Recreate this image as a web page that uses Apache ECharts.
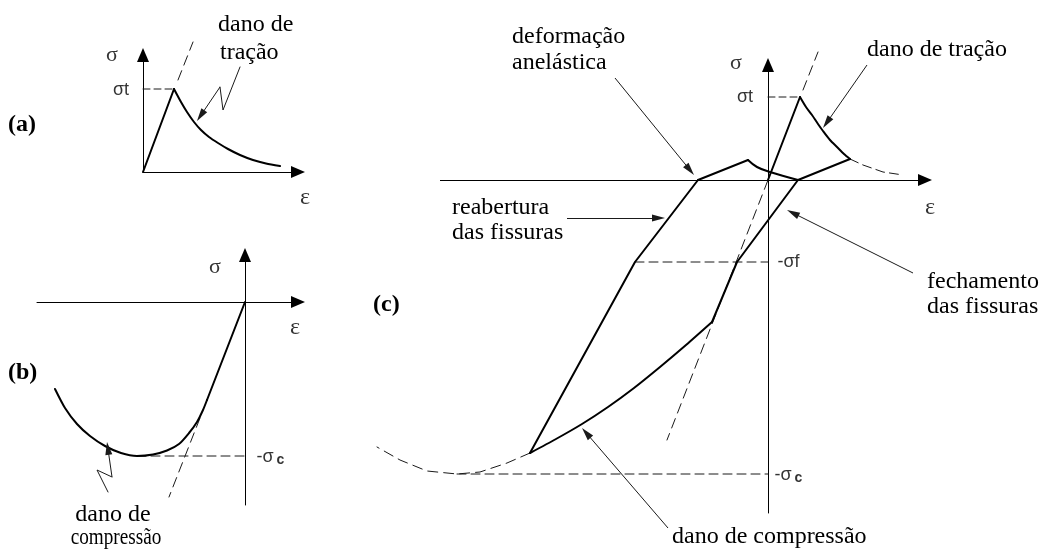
<!DOCTYPE html>
<html>
<head>
<meta charset="utf-8">
<script src="https://cdn.jsdelivr.net/npm/echarts@6/dist/echarts.min.js"></script>
<style>
  html, body { margin: 0; padding: 0; background: #ffffff; }
  #chart { width: 1042px; height: 550px; }
</style>
</head>
<body>
<div id="chart"></div>
<script>
// ---------------------------------------------------------------
// Stress–strain diagrams of the damage model (strain ε, stress σ)
// Each panel has its own axes, origin at (0, 0).
// ---------------------------------------------------------------

// (a) uniaxial tension
const tensaoA_elastico = [[0, 0], [31, 83]];
const tensaoA_amolecimento = [[31, 83], [38, 70], [44, 60], [51, 50], [58, 42], [66, 35], [75, 29],
                              [85, 23], [97, 17], [110, 12], [123, 8.5], [137, 6]];
const tensaoA_prolongamento = [[35, 92], [50, 130]];
const sigmaT_A = 83;
const setaA_zigue = [[97, 105], [80, 62], [77, 85]];
const setaA_ponta = [77, 85];
const setaA_alvo = [54, 51];

// (b) uniaxial compression
const compressaoB_elastico = [[0, 0], [-38, -98]];
const compressaoB_curva = [[-38, -98], [-42, -108], [-48, -120], [-56, -131], [-66, -142], [-78, -148.5],
                           [-92, -152.5], [-108, -154], [-124, -151], [-140, -144], [-155, -134],
                           [-168, -122], [-180, -106], [-190, -87]];
const compressaoB_prolongamento = [[-45, -116], [-76, -195]];
const sigmaC_B = -154;
const picoB_x = -108;
const setaB_zigue = [[-137, -190], [-148, -168], [-133, -175]];
const setaB_ponta = [-133, -175];
const setaB_alvo = [-138, -140];

// (c) cyclic loading
const cicloC_subida = [[-70, 0], [-20, 20]];
const cicloC_descida = [[-20, 20], [-11, 13], [2, 8], [30, 0]];
const tracaoC_elastico = [[0, 0], [32, 83]];
const tracaoC_amolecimento = [[32, 83], [38, 73], [44, 65], [50, 56], [55, 49], [62, 40], [69, 33], [76, 26], [82, 21]];
const tracaoC_continuacao = [[82, 21], [95, 15], [115, 8], [135, 5]];
const fechamentoC = [[82, 21], [30, 0], [-31, -82], [-56, -142]];
const reaberturaC = [[-70, 0], [-133, -82], [-238, -273]];
const compressaoC = [[-56, -142], [-82, -165], [-108, -187], [-134, -208], [-160, -227], [-186, -244], [-212, -259], [-238, -273]];
const compressaoC_continuacao = [[-238, -273], [-261, -283], [-288, -292], [-311, -294], [-341, -291], [-368, -280], [-391, -267]];
const elasticoC_inferior = [[0, 0], [-101, -260]];
const elasticoC_superior = [[35, 90], [50, 128]];
const sigmaT_C = 83;
const sigmaF_C = -82;
const sigmaC_C = -294;
const picoT_C = 32;
const fechaF_x = -133;
const picoC_x = -311;
const eixoEpsC = [[-328, 0], [164, 0]];

// (c) annotation arrows: [start, tip]
const setasC = {
  anelastica: [[-153, 102], [-74, 5]],
  reabertura: [[-201, -38], [-103, -38]],
  danoTracao: [[99, 115], [55, 52]],
  fechamento: [[145, -93], [19, -30]],
  danoCompressao: [[-100, -348], [-186, -248]]
};

// axis extents of each panel [xmin, xmax, ymin, ymax]
const eixosA = [0, 155, 0, 117];
const eixosB = [-208, 53, -203, 47];
const eixosC = [-400, 157, -333, 115];

// ---------------------------------------------------------------
const INK = '#000000';
const THIN = '#1a1a1a';
const HEAD = [7, 13];
const AXIS_HEAD = [12, 14];

// move an arrow's end back so the triangle's tip lands on the target
function arrowCoords(from, tip, head) {
  const dx = tip[0] - from[0], dy = tip[1] - from[1];
  const len = Math.hypot(dx, dy);
  const back = head[1] / 2;
  return [from, [tip[0] - dx / len * back, tip[1] - dy / len * back]];
}

function curve(panel, data, opts) {
  opts = opts || {};
  return {
    type: 'line', xAxisIndex: panel, yAxisIndex: panel, data: data,
    symbol: 'none', silent: true, clip: false, animation: false,
    smooth: opts.smooth || false,
    lineStyle: { color: opts.color || INK, width: opts.width || 2, type: opts.dash || 'solid', cap: 'round', join: 'round' },
    z: opts.z || 3
  };
}
function dashed(panel, data, pattern) {
  return curve(panel, data, { width: 1, dash: pattern || [9, 5], color: THIN, z: 2 });
}
function arrows(panel, pairs, head, color) {
  head = head || HEAD;
  return {
    type: 'lines', coordinateSystem: 'cartesian2d', xAxisIndex: panel, yAxisIndex: panel,
    silent: true, clip: false, animation: false,
    symbol: ['none', 'triangle'], symbolSize: [0, head],
    lineStyle: { color: color || THIN, width: 1, curveness: 0, opacity: 1 },
    data: pairs.map(function (p) { return { coords: arrowCoords(p[0], p[1], head) }; }),
    z: 4
  };
}
function labels(panel, items) {
  return {
    type: 'scatter', xAxisIndex: panel, yAxisIndex: panel, silent: true, clip: false,
    symbolSize: 1, itemStyle: { color: 'rgba(0,0,0,0)' }, animation: false,
    data: items.map(function (it) {
      return {
        value: it.at,
        label: {
          show: true, position: it.pos || 'inside', distance: 0,
          formatter: it.text, color: INK,
          fontFamily: it.family || 'Liberation Serif', fontSize: it.size || 22,
          rich: {
            s: { fontFamily: 'Liberation Sans', fontSize: 18, color: INK },
            b: { fontFamily: 'Liberation Sans', fontSize: 14, fontWeight: 'bold', color: INK, padding: [6, 0, 0, 3] }
          }
        }
      };
    }),
    z: 5
  };
}

function axisPair(ext, grid, showX) {
  const line = {
    show: true, onZero: true,
    symbol: ['none', 'triangle'], symbolSize: AXIS_HEAD,
    lineStyle: { color: INK, width: 1 }
  };
  const common = {
    type: 'value', gridIndex: grid,
    axisTick: { show: false }, axisLabel: { show: false },
    splitLine: { show: false }, silent: true
  };
  return [
    Object.assign({}, common, { min: ext[0], max: ext[1], axisLine: Object.assign({}, line, { show: showX }) }),
    Object.assign({}, common, { min: ext[2], max: ext[3], axisLine: line })
  ];
}
const axA = axisPair(eixosA, 0, true), axB = axisPair(eixosB, 1, true), axC = axisPair(eixosC, 2, false);

const option = {
  animation: false,
  backgroundColor: '#ffffff',
  grid: [
    { left: 143, top: 55, width: 155, height: 117 },
    { left: 37, top: 255, width: 261, height: 250 },
    { left: 368, top: 65, width: 557, height: 448 }
  ],
  xAxis: [axA[0], axB[0], axC[0]],
  yAxis: [axA[1], axB[1], axC[1]],
  series: [
    // (a)
    curve(0, tensaoA_elastico),
    curve(0, tensaoA_amolecimento, { smooth: 0.25 }),
    dashed(0, tensaoA_prolongamento, [10, 6]),
    dashed(0, [[0, sigmaT_A], [tensaoA_elastico[1][0], sigmaT_A]], [7, 4]),
    curve(0, setaA_zigue, { width: 1, color: THIN }),
    arrows(0, [[setaA_ponta, setaA_alvo]]),
    labels(0, [
      { at: [-31, 117], text: 'σ' },
      { at: [-22, 82], text: '{s|σt}' },
      { at: [162, -26], text: 'ε', size: 24 }
    ]),

    // (b)
    curve(1, compressaoB_elastico),
    curve(1, compressaoB_curva, { smooth: 0.25 }),
    dashed(1, compressaoB_prolongamento, [10, 6]),
    dashed(1, [[picoB_x, sigmaC_B], [0, sigmaC_B]], [9, 5]),
    curve(1, setaB_zigue, { width: 1, color: THIN }),
    arrows(1, [[setaB_ponta, setaB_alvo]]),
    labels(1, [
      { at: [-30, 35], text: 'σ' },
      { at: [50, -26], text: 'ε', size: 24 },
      { at: [11, sigmaC_B - 1], text: '{s|-σ}{b|c}', pos: 'right' }
    ]),

    // (c)
    arrows(2, [eixoEpsC], AXIS_HEAD, INK),
    curve(2, cicloC_subida),
    curve(2, cicloC_descida, { smooth: 0.4 }),
    curve(2, tracaoC_elastico),
    curve(2, tracaoC_amolecimento, { smooth: 0.25 }),
    dashed(2, tracaoC_continuacao, [9, 5]),
    curve(2, fechamentoC),
    curve(2, reaberturaC),
    curve(2, compressaoC, { smooth: 0.25 }),
    dashed(2, compressaoC_continuacao, [10, 6]),
    dashed(2, elasticoC_inferior, [10, 6]),
    dashed(2, elasticoC_superior, [10, 6]),
    dashed(2, [[0, sigmaT_C], [picoT_C, sigmaT_C]], [7, 4]),
    dashed(2, [[fechaF_x, sigmaF_C], [0, sigmaF_C]], [9, 5]),
    dashed(2, [[picoC_x, sigmaC_C], [0, sigmaC_C]], [9, 5]),
    arrows(2, [setasC.anelastica, setasC.reabertura, setasC.danoTracao, setasC.fechamento, setasC.danoCompressao]),
    labels(2, [
      { at: [-32, 117], text: 'σ' },
      { at: [-23, sigmaT_C], text: '{s|σt}' },
      { at: [162, -28], text: 'ε', size: 24 },
      { at: [9, sigmaF_C], text: '{s|-σf}', pos: 'right' },
      { at: [6, sigmaC_C - 1], text: '{s|-σ}{b|c}', pos: 'right' }
    ])
  ],
  graphic: (function () {
    const serif = '24px "Liberation Serif"';
    const bold = 'bold 24px "Liberation Serif"';
    function t(text, x, y, font, align, sx) {
      return { type: 'text', x: x, y: y, scaleX: sx || 1, silent: true,
        style: { text: text, font: font || serif, fill: INK, align: align || 'left', verticalAlign: 'middle' } };
    }
    return [
      t('(a)', 8, 125, bold),
      t('(b)', 8, 373, bold),
      t('(c)', 373, 305, bold),
      t('dano de', 218, 25),
      t('tração', 220, 53),
      t('dano de', 113, 515, serif, 'center'),
      t('compressão', 116, 538, serif, 'center', 0.8),
      t('deformação', 512, 37),
      t('anelástica', 512, 63),
      t('reabertura', 452, 208),
      t('das fissuras', 452, 233),
      t('dano de tração', 867, 50),
      t('fechamento', 927, 282),
      t('das fissuras', 927, 307),
      t('dano de compressão', 672, 537)
    ];
  })()
};

const chart = echarts.init(document.getElementById('chart'), null, { renderer: 'canvas' });
chart.setOption(option);
</script>
</body>
</html>
